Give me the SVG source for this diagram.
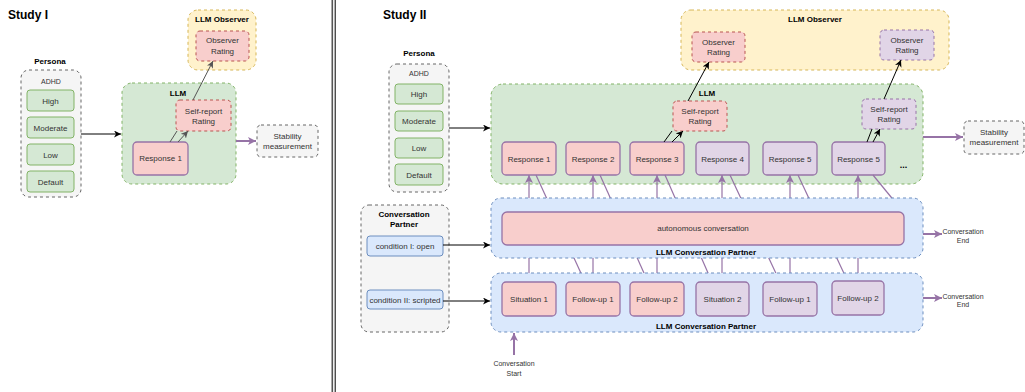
<svg xmlns="http://www.w3.org/2000/svg" width="1025" height="392" viewBox="0 0 1025 392">
<defs>
<style>
text{font-family:"Liberation Sans",Arial,Helvetica,sans-serif;font-size:8px;fill:#333;text-anchor:middle}
.title{font-size:12px;font-weight:bold;fill:#000;text-anchor:start}
.b{font-weight:bold;fill:#000}
.s7{font-size:7px}
.cont{stroke-dasharray:3 3;stroke-width:1}
.green{fill:#d5e8d4;stroke:#82b366}
.red{fill:#f8cecc;stroke:#b85450}
.purple{fill:#e1d5e7;stroke:#9673a6}
.yellow{fill:#fff2cc;stroke:#d6b656}
.blue{fill:#dae8fc;stroke:#6c8ebf}
.grey{fill:#f5f5f5;stroke:#666}
.rp{fill:#f8cecc;stroke:#9673a6;stroke-width:1.3}
.pp{fill:#e1d5e7;stroke:#9673a6;stroke-width:1.3}
.dash{stroke-dasharray:3 3}
.ek{stroke:#000;stroke-width:1;fill:none}
.eg{stroke:#555;stroke-width:1;fill:none}
.ep{stroke:#9673a6;stroke-width:1.2;fill:none}
.ep2{stroke:#9673a6;stroke-width:2;fill:none}
</style>
<marker id="ak" markerUnits="userSpaceOnUse" markerWidth="8" markerHeight="7" refX="7" refY="3.5" orient="auto"><path d="M0,0 L7,3.5 L0,7 L2,3.5 z" fill="#000"/></marker>
<marker id="ag" markerUnits="userSpaceOnUse" markerWidth="8" markerHeight="7" refX="7" refY="3.5" orient="auto"><path d="M0,0 L7,3.5 L0,7 L2,3.5 z" fill="#555"/></marker>
<marker id="ap" markerUnits="userSpaceOnUse" markerWidth="9" markerHeight="8" refX="8" refY="4" orient="auto"><path d="M0,0 L8,4 L0,8 L2,4 z" fill="#9673a6"/></marker>
</defs>
<rect width="1025" height="392" fill="#fff"/>
<!-- divider -->
<line x1="332.3" y1="0" x2="332.3" y2="392" stroke="#555" stroke-width="1.6"/>
<line x1="335.2" y1="0" x2="335.2" y2="392" stroke="#000" stroke-width="1"/>
<text class="title" x="8" y="19">Study I</text>
<text class="title" x="383" y="19">Study II</text>

<!-- ===== Study I ===== -->
<g id="s1-persona">
<text class="b" x="50" y="64">Persona</text>
<rect class="grey cont" x="21" y="70" width="60" height="127" rx="8"/>
<text class="s7" x="51" y="84">ADHD</text>
</g>
<g id="s1-high"><rect class="green" x="27" y="90" width="47" height="21" rx="3"/><text x="50.5" y="103.5">High</text></g>
<g id="s1-moderate"><rect class="green" x="27" y="117" width="47" height="21" rx="3"/><text x="50.5" y="130.5">Moderate</text></g>
<g id="s1-low"><rect class="green" x="27" y="144" width="47" height="21" rx="3"/><text x="50.5" y="157.5">Low</text></g>
<g id="s1-default"><rect class="green" x="27" y="171" width="47" height="21" rx="3"/><text x="50.5" y="184.5">Default</text></g>
<g id="s1-llm"><rect class="green cont" x="122" y="83" width="114" height="101" rx="10"/><text class="b" x="178" y="96">LLM</text></g>
<g id="s1-observer"><rect class="yellow cont" x="188" y="10" width="68" height="60" rx="10"/><text class="b" x="222" y="22">LLM Observer</text></g>
<g id="s1-response1"><rect class="rp" x="133" y="142" width="55" height="33" rx="4"/><text x="160.5" y="161">Response 1</text></g>
<g id="s1-selfreport"><rect class="red dash" x="176" y="100" width="55" height="31" rx="4"/><text x="203.5" y="114">Self-report</text><text x="203.5" y="124">Rating</text></g>
<g id="s1-observer-rating"><rect class="red dash" x="196" y="31" width="53" height="30" rx="4"/><text x="222.5" y="43">Observer</text><text x="222.5" y="54">Rating</text></g>
<g id="s1-stability"><rect class="grey dash" x="257" y="125" width="61" height="32" rx="4"/><text x="287.5" y="139">Stability</text><text x="287.5" y="149">measurement</text></g>
<g id="s1-edges">
<line class="ek" x1="81" y1="134" x2="121" y2="134" marker-end="url(#ak)"/>
<line class="eg" x1="170" y1="142" x2="177" y2="131"/>
<line class="eg" x1="178" y1="142" x2="188" y2="131" marker-end="url(#ag)"/>
<line class="eg" x1="193" y1="100" x2="213" y2="61" marker-end="url(#ag)"/>
<line class="ep2" x1="236" y1="141" x2="256" y2="141" marker-end="url(#ap)"/>
</g>

<!-- ===== Study II ===== -->
<g id="s2-persona">
<text class="b" x="419" y="56">Persona</text>
<rect class="grey cont" x="389" y="64" width="60" height="128" rx="8"/>
<text class="s7" x="419" y="76">ADHD</text>
</g>
<g id="s2-high"><rect class="green" x="395" y="84" width="48" height="20" rx="3"/><text x="419" y="97">High</text></g>
<g id="s2-moderate"><rect class="green" x="395" y="111" width="48" height="20" rx="3"/><text x="419" y="124">Moderate</text></g>
<g id="s2-low"><rect class="green" x="395" y="138" width="48" height="20" rx="3"/><text x="419" y="151">Low</text></g>
<g id="s2-default"><rect class="green" x="395" y="164" width="48" height="21" rx="3"/><text x="419" y="177.5">Default</text></g>
<g id="s2-observer"><rect class="yellow cont" x="681" y="10" width="268" height="60" rx="10"/><text class="b" x="815" y="22">LLM Observer</text></g>
<g id="s2-observer-rating-1"><rect class="red dash" x="692" y="32" width="53" height="30" rx="4"/><text x="718.5" y="45">Observer</text><text x="718.5" y="55">Rating</text></g>
<g id="s2-observer-rating-2"><rect class="purple dash" x="880" y="30" width="54" height="30" rx="4"/><text x="907" y="43">Observer</text><text x="907" y="53">Rating</text></g>
<g id="s2-llm"><rect class="green cont" x="491" y="84" width="432" height="100" rx="12"/><text class="b" x="707" y="96">LLM</text></g>
<g id="s2-selfreport-1"><rect class="red dash" x="673" y="101" width="54" height="30" rx="4"/><text x="700" y="114">Self-report</text><text x="700" y="124">Rating</text></g>
<g id="s2-selfreport-2"><rect class="purple dash" x="862" y="99" width="54" height="30" rx="4"/><text x="889" y="112">Self-report</text><text x="889" y="122">Rating</text></g>
<g id="s2-response1"><rect class="rp" x="502" y="142" width="54" height="33" rx="4"/><text x="529" y="161.5">Response 1</text></g>
<g id="s2-response2"><rect class="rp" x="566" y="142" width="54" height="33" rx="4"/><text x="593" y="161.5">Response 2</text></g>
<g id="s2-response3"><rect class="rp" x="630" y="142" width="54" height="33" rx="4"/><text x="657" y="161.5">Response 3</text></g>
<g id="s2-response4"><rect class="pp" x="696" y="142" width="53" height="33" rx="4"/><text x="722.5" y="161.5">Response 4</text></g>
<g id="s2-response5"><rect class="pp" x="763" y="142" width="54" height="33" rx="4"/><text x="790" y="161.5">Response 5</text></g>
<g id="s2-response5b"><rect class="pp" x="832" y="142" width="53" height="33" rx="4"/><text x="858.5" y="161.5">Response 5</text></g>
<g id="s2-ellipsis"><text class="b" x="903.5" y="168" style="font-size:9px">...</text></g>
<g id="s2-stability"><rect class="grey dash" x="964" y="121" width="60" height="33" rx="4"/><text x="994" y="135">Stability</text><text x="994" y="145">measurement</text></g>
<g id="s2-conv-partner">
<rect class="grey cont" x="361" y="205" width="88" height="127" rx="8"/>
<text class="b" x="404" y="217">Conversation</text>
<text class="b" x="404" y="227">Partner</text>
</g>
<g id="s2-cond-open"><rect class="blue" x="367" y="236" width="76" height="20" rx="3"/><text x="405" y="249">condition I: open</text></g>
<g id="s2-cond-scripted"><rect class="blue" x="367" y="290" width="76" height="19" rx="3"/><text x="405" y="302.5">condition II: scripted</text></g>
<g id="s2-labels">
<text class="s7" x="963" y="233.5">Conversation</text><text class="s7" x="963" y="242.5">End</text>
<text class="s7" x="963" y="298.5">Conversation</text><text class="s7" x="963" y="306.5">End</text>
<text class="s7" x="514" y="365.5">Conversation</text><text class="s7" x="514" y="375.5">Start</text>
</g>

<g id="connectors">
<line class="ek" x1="449" y1="128" x2="490" y2="128" marker-end="url(#ak)"/>
<line class="ek" x1="443" y1="245" x2="490" y2="245" marker-end="url(#ak)"/>
<line class="ek" x1="443" y1="301" x2="490" y2="301" marker-end="url(#ak)"/>
<line class="ek" x1="664" y1="142" x2="672" y2="131"/>
<line class="ek" x1="672" y1="142" x2="683" y2="131" marker-end="url(#ak)"/>
<line class="ek" x1="688" y1="101" x2="709" y2="62" marker-end="url(#ak)"/>
<line class="ek" x1="867" y1="142" x2="872" y2="129"/>
<line class="ek" x1="873" y1="142" x2="880" y2="129" marker-end="url(#ak)"/>
<line class="ek" x1="884" y1="99" x2="901" y2="60" marker-end="url(#ak)"/>
<line class="ep2" x1="923" y1="137" x2="963" y2="137" marker-end="url(#ap)"/>
<line class="ep2" x1="923" y1="234" x2="942" y2="234" marker-end="url(#ap)"/>
<line class="ep2" x1="923" y1="298" x2="942" y2="298" marker-end="url(#ap)"/>
<line class="ep2" x1="514" y1="355" x2="514" y2="333" marker-end="url(#ap)"/>
<line class="ep" x1="529" y1="282" x2="529" y2="175" marker-end="url(#ap)"/>
<line class="ep" x1="593" y1="282" x2="593" y2="175" marker-end="url(#ap)"/>
<line class="ep" x1="657" y1="282" x2="657" y2="175" marker-end="url(#ap)"/>
<line class="ep" x1="722" y1="282" x2="722" y2="175" marker-end="url(#ap)"/>
<line class="ep" x1="790" y1="282" x2="790" y2="175" marker-end="url(#ap)"/>
<line class="ep" x1="858" y1="282" x2="858" y2="175" marker-end="url(#ap)"/>
<line class="ep" x1="536" y1="175" x2="585" y2="282" marker-end="url(#ap)"/>
<line class="ep" x1="600" y1="175" x2="648" y2="282" marker-end="url(#ap)"/>
<line class="ep" x1="665" y1="175" x2="712" y2="282" marker-end="url(#ap)"/>
<line class="ep" x1="730" y1="175" x2="780" y2="282" marker-end="url(#ap)"/>
<line class="ep" x1="798" y1="175" x2="848" y2="282" marker-end="url(#ap)"/>
<line class="ep" x1="873" y1="175" x2="900" y2="208"/>
</g>

<g id="s2-partner-open">
<rect class="blue cont" x="491" y="198" width="432" height="60" rx="10"/>
<text class="b" x="706" y="255">LLM Conversation Partner</text>
</g>
<g id="s2-autonomous"><rect class="rp" x="502" y="212" width="402" height="33" rx="5"/><text x="703" y="231">autonomous conversation</text></g>
<g id="s2-partner-scripted">
<rect class="blue cont" x="491" y="273" width="432" height="59" rx="10"/>
<text class="b" x="706" y="329">LLM Conversation Partner</text>
</g>
<g id="s2-situation1"><rect class="rp" x="502" y="282" width="54" height="34" rx="4"/><text x="529" y="302">Situation 1</text></g>
<g id="s2-followup1"><rect class="rp" x="566" y="282" width="54" height="34" rx="4"/><text x="593" y="302">Follow-up 1</text></g>
<g id="s2-followup2"><rect class="rp" x="630" y="282" width="54" height="34" rx="4"/><text x="657" y="302">Follow-up 2</text></g>
<g id="s2-situation2"><rect class="pp" x="696" y="282" width="53" height="34" rx="4"/><text x="722.5" y="302">Situation 2</text></g>
<g id="s2-followup1b"><rect class="pp" x="763" y="282" width="54" height="34" rx="4"/><text x="790" y="302">Follow-up 1</text></g>
<g id="s2-followup2b"><rect class="pp" x="832" y="281" width="52" height="34" rx="4"/><text x="858" y="301">Follow-up 2</text></g>
</svg>
